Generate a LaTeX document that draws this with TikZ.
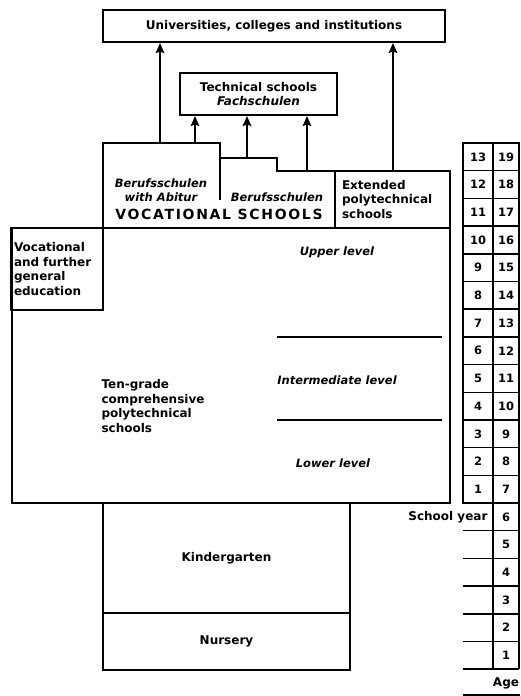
\documentclass[tikz,border=0pt]{standalone}
\usepackage{fontspec}
\setmainfont{DejaVu Sans}
\usetikzlibrary{arrows.meta}
\tikzset{>={Stealth[length=10pt,width=8.5pt,inset=1.5pt]},
  box/.style={draw,line width=2pt,inner sep=0pt},
  lbl/.style={font=\bfseries\fontsize{12}{14.5}\selectfont},
  ilbl/.style={font=\bfseries\itshape\fontsize{11.5}{14.5}\selectfont},
  cell/.style={font=\bfseries\fontsize{11.5}{13}\selectfont},
  up/.style={->,line width=2pt},
  rule/.style={line width=1.6pt}}

\begin{document}
\begin{tikzpicture}[x=1pt,y=-1pt]
\useasboundingbox (0,0) rectangle (520,696);

% higher education
\node[box,lbl,minimum width=342pt,minimum height=32pt] (uni) at (274,26) {Universities, colleges and institutions};
\node[box,lbl,align=center,minimum width=157pt,minimum height=42pt] (tech) at (258.5,94) {Technical schools\\{\itshape Fachschulen}};

% vocational schools
\draw[line width=2pt] (103,228) -- (103,143) -- (220,143) -- (220,158) -- (277,158) -- (277,171) -- (335,171);
\draw[line width=2pt] (220,143) -- (220,200);
\node[box,lbl,align=left,inner xsep=7pt,text width=101pt,minimum height=57pt] (ext) at (392.5,199.5) {Extended\\polytechnical\\schools};
\node[ilbl,align=center] (abi) at (161,190) {Berufsschulen\\with Abitur};
\node[ilbl] (beruf) at (277,197) {Berufsschulen};
\node[lbl,font=\bfseries\fontsize{14}{16}\selectfont\addfontfeature{LetterSpace=12}] (voc) at (219,214) {VOCATIONAL SCHOOLS};

% general schools
\node[box,minimum width=438pt,minimum height=275pt] (main) at (231,365.5) {};
\node[box,lbl,line width=2.6pt,align=left,inner xsep=3pt,text width=86pt,minimum height=82pt] (further) at (57,269) {Vocational\\and further\\general\\education};
\node[ilbl] (upper) at (337,252) {Upper level};
\node[ilbl] (inter) at (337,380) {Intermediate level};
\node[ilbl] (lower) at (333,463) {Lower level};
\node[lbl,align=left,anchor=west] (ten) at (98,406) {Ten-grade\\comprehensive\\polytechnical\\schools};
\draw[rule] (277,337) -- (442,337);
\draw[rule] (277,420) -- (442,420);

% pre-school
\node[box,lbl,minimum width=247pt,minimum height=110pt] (kind) at (226.5,558) {Kindergarten};
\node[box,lbl,minimum width=247pt,minimum height=57pt] (nurs) at (226.5,641.5) {Nursery};

% transitions
\coordinate (p1) at (160,143);
\coordinate (p2) at (195,143);
\coordinate (p3) at (247,158);
\coordinate (p4) at (307,171);
\coordinate (p5) at (393,171);
\draw[up] (p1) -- (p1 |- uni.south);
\draw[up] (p5) -- (p5 |- uni.south);
\draw[up] (p2) -- (p2 |- tech.south);
\draw[up] (p3) -- (p3 |- tech.south);
\draw[up] (p4) -- (p4 |- tech.south);

% school year and age
\draw[line width=2pt] (463,143) rectangle (519,503);
\draw[line width=2pt] (493,143) -- (493,669);
\draw[line width=2pt] (519,503) -- (519,669);
\foreach \i in {0,...,12}{
  \pgfmathtruncatemacro\sy{13-\i}
  \pgfmathtruncatemacro\ag{19-\i}
  \draw[line width=1.5pt] (463,{143+\i*27.7}) -- (519,{143+\i*27.7});
  \node[cell] (sy\sy) at (478,{156.85+\i*27.7}) {\sy};
  \node[cell] (ag\ag) at (506,{156.85+\i*27.7}) {\ag};
}
\foreach \i in {0,...,5}{
  \pgfmathtruncatemacro\ag{6-\i}
  \node[cell] (ag\ag) at (506,{516.85+\i*27.7}) {\ag};
  \draw[line width=1.5pt] (463,{530.7+\i*27.7}) -- (519,{530.7+\i*27.7});
}
\draw[line width=2.2pt] (463,669) -- (519,669);
\node[lbl,anchor=east] (sylbl) at (491,517) {School year};
\node[lbl] (agelbl) at (506,683) {Age};
\draw[line width=1.5pt] (463,695) -- (520,695);
\end{tikzpicture}
\end{document}
